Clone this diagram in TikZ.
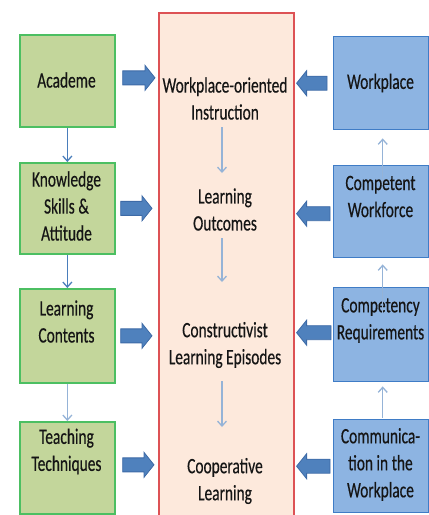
\documentclass[tikz,border=0pt]{standalone}
\usepackage{fontspec}
\setmainfont{Carlito}[FakeStretch=0.7,FakeBold=0.4]
\usetikzlibrary{calc,arrows.meta}

\definecolor{gfill}{HTML}{C3D69B}
\definecolor{gline}{HTML}{4CBF62}
\definecolor{rfill}{HTML}{FDE9DC}
\definecolor{rline}{HTML}{DD5255}
\definecolor{bfill}{HTML}{8DB4E2}
\definecolor{bline}{HTML}{3F7CC6}
\definecolor{ffill}{HTML}{4F81BD}
\definecolor{fline}{HTML}{3D6AA6}
\definecolor{tdark}{HTML}{4A7EBB}
\definecolor{tlight}{HTML}{95B3D7}
\definecolor{ink}{HTML}{151515}

\tikzset{
  box/.style={rectangle, inner sep=0pt, line width=1.7pt,
              minimum width=95pt, minimum height=92pt, anchor=north west},
  gbox/.style={box, draw=gline, fill=gfill},
  bbox/.style={box, draw=bline, fill=bfill, line width=1.4pt},
  txt/.style={align=center, inner sep=0pt, text=ink,
              font=\fontsize{22}{27}\selectfont},
  thinarr/.style={line width=1.3pt, -{Straight Barb[length=5pt,width=9pt]}},
  fatarr/.style={draw=fline, fill=ffill, line width=0.8pt, line join=miter}
}

% horizontal block arrow between two points: body 14pt, head 25pt x 10pt
\newcommand\fatarrow[2]{%
  \path[fatarr] let \p1=(#1), \p2=(#2),
    \n1={ifthenelse(\x2>\x1,10,-10)} in
    (\x1,\y1+7pt) -- (\x2-\n1,\y1+7pt) -- (\x2-\n1,\y1+12.5pt)
    -- (\x2,\y1) -- (\x2-\n1,\y1-12.5pt) -- (\x2-\n1,\y1-7pt)
    -- (\x1,\y1-7pt) -- cycle;}

\begin{document}
\begin{tikzpicture}[x=1pt,y=-1pt]
\useasboundingbox (0,0) rectangle (429,515);

% central column
\node[rectangle, draw=rline, fill=rfill, line width=1.6pt, inner sep=0pt,
      minimum width=135pt, minimum height=515pt, anchor=north west]
      (mid) at (158,12) {};

% left column
\node[gbox] (acad) at (19,34)  {};
\node[gbox, minimum height=91pt] (ksa)  at (19,162) {};
\node[gbox, minimum height=94pt] (lc)   at (19,288) {};
\node[gbox] (tt)   at (19,421) {};

% right column
\node[bbox, minimum height=93pt] (wp)   at (333,36)  {};
\node[bbox] (comp) at (333,165) {};
\node[bbox, minimum height=94pt] (cr)   at (333,287) {};
\node[bbox, minimum height=93pt] (comm) at (333,419) {};

% box captions
\node[txt] (acadT) at (66.5,80)    {Academe};
\node[txt] (ksaT)  at (66.5,206)   {Knowledge\\Skills\,\&\\Attitude};
\node[txt] (lcT)   at (66.5,321.5) {Learning\\Contents};
\node[txt] (ttT)   at (66.5,451.5) {Teaching\\Techniques};

\node[txt] (wpT)   at (380.5,83)   {Workplace};
\node[txt] (compT) at (380.5,196.5){Competent\\Workforce};
\node[txt] (crT)   at (380.5,320.5){Competency\\Requirements};
\node[txt] (commT) at (380.5,464.5){Communica-\\tion in\,the\\Workplace};

% stages inside the central column
\node[txt] (woi) at (225,98.5) {Workplace-oriented\\Instruction};
\node[txt] (lo)  at (225,209.5){Learning\\Outcomes};
\node[txt] (cle) at (225,345)  {Constructivist\\Learning Episodes};
\node[txt] (cl)  at (225,481)  {Cooperative\\Learning};

% flow inside the central column
\draw[thinarr, tlight, shorten <=28.5pt, shorten >=36.5pt]
  ([xshift=-3pt]woi.center) -- ([xshift=-3pt]lo.center);
\draw[thinarr, tlight, shorten <=28.5pt, shorten >=63pt]
  ([xshift=-3pt]lo.center) -- ([xshift=-3pt]cle.center);
\draw[thinarr, tlight, shorten <=36pt, shorten >=54pt]
  ([xshift=-3pt]cle.center) -- ([xshift=-3pt]cl.center);

% left column links
\draw[thinarr, tdark]  (acad.south) -- (ksa.north);
\draw[thinarr, tdark]  (ksa.south)  -- (lc.north);
\draw[thinarr, tlight] (lc.south)   -- (tt.north);

% right column links (upwards)
\draw[thinarr, tlight, shorten <=-20pt, shorten >=8pt]
  ([xshift=1.5pt]comp.north) -- ([xshift=1.5pt]wp.south);
\draw[thinarr, tlight, shorten <=-26pt, shorten >=6pt]
  ([xshift=1.5pt]cr.north) -- ([xshift=1.5pt]comp.south);
\draw[thinarr, tlight, shorten <=1pt, shorten >=4pt]
  ([xshift=1.5pt]comm.north) -- ([xshift=1.5pt]cr.south);

% block arrows into the central column
\fatarrow{[xshift=7pt,yshift=3pt]acad.east}{[xshift=-3pt]mid.west}
\fatarrow{[xshift=5pt]ksa.east}{[xshift=-6pt]mid.west}
\fatarrow{[xshift=5pt]lc.east}{[xshift=-6pt]mid.west}
\fatarrow{[xshift=7pt,yshift=3pt]tt.east}{[xshift=-4pt]mid.west}

\fatarrow{[xshift=-6pt]wp.west}{[xshift=2pt]mid.east}
\fatarrow{[xshift=-3pt,yshift=-2pt]comp.west}{[xshift=2pt]mid.east}
\fatarrow{[xshift=-2pt,yshift=2pt]cr.west}{[xshift=2pt]mid.east}
\fatarrow{[xshift=-3pt]comm.west}{[xshift=2pt]mid.east}
\end{tikzpicture}
\end{document}
